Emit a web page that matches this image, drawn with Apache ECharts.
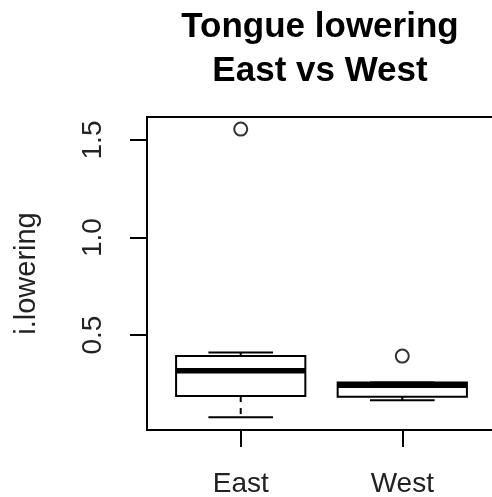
<!DOCTYPE html>
<html>
<head>
<meta charset="utf-8">
<script src="https://cdn.jsdelivr.net/npm/echarts@6/dist/echarts.min.js"></script>
<style>html,body{margin:0;padding:0;background:#fff}#c{width:492px;height:497px}</style>
</head>
<body>
<div id="c"></div>
<script>
var categories = ['East', 'West'];
var lowerWhisker = [0.079, 0.165];
var q1 = [0.187, 0.183];
var median = [0.317, 0.243];
var q3 = [0.392, 0.257];
var upperWhisker = [0.411, 0.257];
var outlierGroup = [0, 1];
var outlierValues = [1.556, 0.392];
var yTicks = [0.5, 1.0, 1.5];

var boxData = categories.map(function (c, i) {
  return [i + 1, lowerWhisker[i], q1[i], median[i], q3[i], upperWhisker[i]];
});
var outData = outlierGroup.map(function (g, i) { return [g + 1, outlierValues[i]]; });

var FONT = '"Liberation Sans", Arial, sans-serif';
var chart = echarts.init(document.getElementById('c'), null, {renderer: 'canvas'});
chart.setOption({
  backgroundColor: '#fff',
  animation: false,
  title: {
    text: 'Tongue lowering\nEast vs West',
    left: 320, top: 5, padding: 0,
    textAlign: 'center',
    textStyle: {fontFamily: FONT, fontWeight: 'bold', fontSize: 35, lineHeight: 44, color: '#000'}
  },
  grid: {left: 147, top: 117, width: 349, bottom: 67, outerBoundsMode: 'none', containLabel: false,
    show: true, borderColor: '#000', borderWidth: 2, backgroundColor: 'transparent'},
  xAxis: {
    type: 'value', min: 0.42, max: 2.58,
    axisLine: {show: true, lineStyle: {color: '#000', width: 2}},
    axisTick: {show: true, length: 17, lineStyle: {color: '#000', width: 2}, customValues: [1, 2]},
    axisLabel: {customValues: [1, 2], formatter: function (v) { return categories[Math.round(v) - 1]; },
      margin: 40, fontFamily: FONT, fontSize: 28, color: '#222', hideOverlap: false},
    splitLine: {show: false}
  },
  yAxis: {
    type: 'value', min: 0.013, max: 1.618,
    name: 'i.lowering', nameLocation: 'middle', nameRotate: 90, nameGap: 106,
    nameTextStyle: {fontFamily: FONT, fontSize: 29, color: '#222'},
    axisLine: {show: true, lineStyle: {color: '#000', width: 2}},
    axisTick: {show: true, length: 17, lineStyle: {color: '#000', width: 2}, customValues: yTicks},
    axisLabel: {customValues: yTicks, rotate: 90, formatter: function (v) { return v.toFixed(1); },
      margin: 40, fontFamily: FONT, fontSize: 28, color: '#222', hideOverlap: false},
    splitLine: {show: false}
  },
  series: [
    {
      type: 'custom',
      data: boxData,
      encode: {x: 0, y: [1, 2, 3, 4, 5]},
      renderItem: function (params, api) {
        var x = api.value(0);
        var halfBox = api.size([0.8, 0])[0] / 2;
        var halfCap = api.size([0.4, 0])[0] / 2;
        var pMin = api.coord([x, api.value(1)]);
        var pQ1 = api.coord([x, api.value(2)]);
        var pMed = api.coord([x, api.value(3)]);
        var pQ3 = api.coord([x, api.value(4)]);
        var pMax = api.coord([x, api.value(5)]);
        var cx = pMed[0];
        var ls = {stroke: '#000', lineWidth: 2};
        var dash = {stroke: '#000', lineWidth: 2, lineDash: [6, 6]};
        return {
          type: 'group',
          children: [
            {type: 'line', shape: {x1: cx, y1: pQ1[1], x2: cx, y2: pMin[1]}, style: dash},
            {type: 'line', shape: {x1: cx, y1: pQ3[1], x2: cx, y2: pMax[1]}, style: dash},
            {type: 'line', shape: {x1: cx - halfCap, y1: pMin[1], x2: cx + halfCap, y2: pMin[1]}, style: ls},
            {type: 'line', shape: {x1: cx - halfCap, y1: pMax[1], x2: cx + halfCap, y2: pMax[1]}, style: ls},
            {type: 'rect', shape: {x: cx - halfBox, y: pQ3[1], width: 2 * halfBox, height: pQ1[1] - pQ3[1]},
              style: {fill: '#fff', stroke: '#000', lineWidth: 2}},
            {type: 'line', shape: {x1: cx - halfBox, y1: pMed[1], x2: cx + halfBox, y2: pMed[1]},
              style: {stroke: '#000', lineWidth: 5.5}}
          ]
        };
      }
    },
    {
      type: 'scatter',
      data: outData,
      symbol: 'circle', symbolSize: 13,
      itemStyle: {color: '#fff', borderColor: '#000', borderWidth: 2}
    }
  ]
});
</script>
</body>
</html>
